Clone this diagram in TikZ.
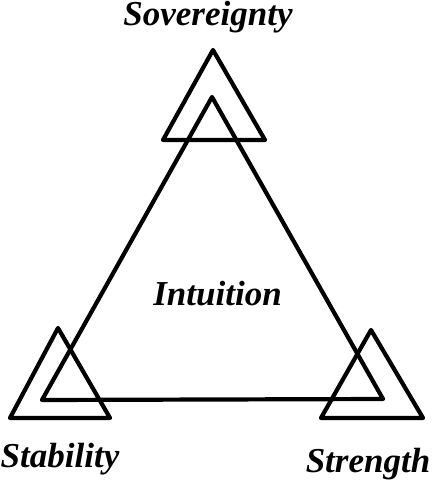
\documentclass[tikz,border=0pt]{standalone}
\usepackage{fontspec}
\setmainfont{Liberation Serif}
\usetikzlibrary{calc,positioning}

\begin{document}
\begin{tikzpicture}[x=1pt,y=-1pt,
    tri/.style={line width=4.2pt, line join=round, color=black},
    lbl/.style={inner sep=0pt, anchor=base, font=\fontsize{35}{40}\selectfont\bfseries\itshape}]
    \useasboundingbox (0,0) rectangle (433,481);
    % main triangle
    \draw[tri] (212,97) -- (42,400) -- (383,399) -- cycle;
    % corner triangles
    \draw[tri] (213,50) -- (163,140) -- (265,140) -- cycle;
    \draw[tri] (58,328) -- (10,418) -- (110,418) -- cycle;
    \draw[tri] (371,330) -- (321,418) -- (423,418) -- cycle;

    \node[lbl] (sov) at (208,26) {Sovereignty};
    \node[lbl] (intu) at (217.5,305) {Intuition};
    \node[lbl] (stab) at (60,467) {Stability};
    \node[lbl] (stre) at (368,472) {Strength};
\end{tikzpicture}
\end{document}
